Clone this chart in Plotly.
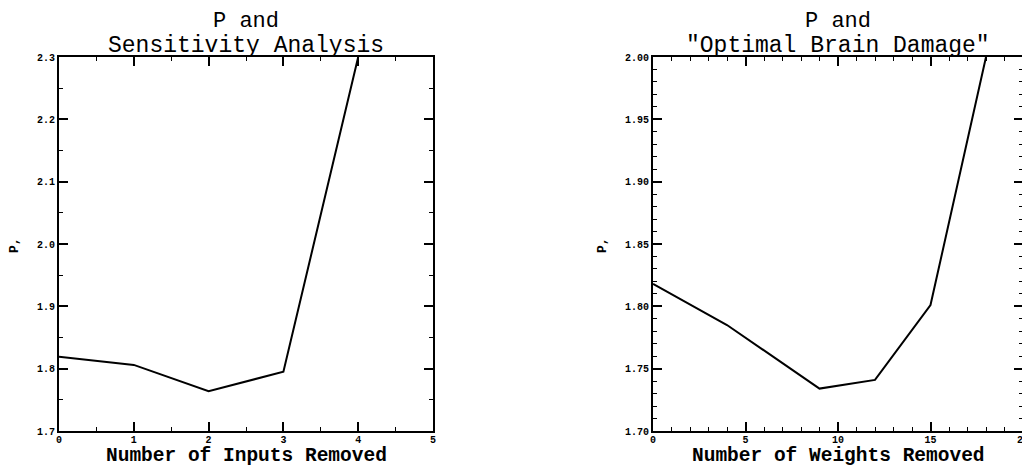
import plotly.graph_objects as go

# Left panel: P vs number of inputs removed (sensitivity analysis)
inputs_removed = [0, 1, 2, 3, 4]
p_inputs = [1.819, 1.806, 1.764, 1.795, 2.30]

# Right panel: P vs number of weights removed (Optimal Brain Damage)
weights_removed = [0, 4, 9, 12, 15, 18]
p_weights = [1.818, 1.785, 1.734, 1.741, 1.801, 2.00]

left_title = ["P and", "Sensitivity Analysis"]
right_title = ["P and", "\"Optimal Brain Damage\""]
left_xlabel = "Number of Inputs Removed"
right_xlabel = "Number of Weights Removed"
ylabel = "P,"

MONO = "Liberation Mono, Courier New, monospace"

# page body has an 8px margin; figure occupies the rest of the 1030x470 window
OFF = 8
W, H = 1030 - OFF, 470 - OFF


def px(X):
    return (X - OFF) / W


def py(Y):
    return 1 - (Y - OFF) / H


fig = go.Figure()
fig.add_trace(go.Scatter(x=inputs_removed, y=p_inputs, mode="lines",
                         line=dict(color="black", width=2), xaxis="x", yaxis="y",
                         showlegend=False))
fig.add_trace(go.Scatter(x=weights_removed, y=p_weights, mode="lines",
                         line=dict(color="black", width=2), xaxis="x2", yaxis="y2",
                         showlegend=False))

lx0, lx1 = px(59), px(433)
rx0, rx1 = px(653), px(1023)
ytop, ybot = py(57), py(431)

tickfont = dict(family=MONO, size=10, color="black", weight="bold")
common = dict(showgrid=False, zeroline=False, showline=True, linecolor="black",
              linewidth=2, mirror="allticks", ticks="inside", ticklen=9,
              tickwidth=1.5, tickcolor="black", tickfont=tickfont, automargin=False)
minor_style = dict(ticks="inside", ticklen=4, tickcolor="black", tickwidth=1.2)

fig.update_layout(
    width=W, height=H, margin=dict(l=0, r=0, t=0, b=0, autoexpand=False),
    paper_bgcolor="white", plot_bgcolor="white",
    xaxis=dict(domain=[lx0, lx1], range=[0, 5], anchor="y", tick0=0, dtick=1,
               minor=dict(dtick=0.5, **minor_style), ticklabelstandoff=-2, **common),
    yaxis=dict(domain=[ybot, ytop], range=[1.7, 2.3], anchor="x", tick0=1.7, dtick=0.1,
               tickformat=".1f", minor=dict(dtick=0.05, **minor_style), **common),
    xaxis2=dict(domain=[rx0, rx1], range=[0, 20], anchor="y2", tick0=0, dtick=5,
                minor=dict(dtick=1, **minor_style), ticklabelstandoff=-2, **common),
    yaxis2=dict(domain=[ybot, ytop], range=[1.70, 2.00], anchor="x2", tick0=1.70, dtick=0.05,
                tickformat=".2f", minor=dict(dtick=0.01, **minor_style), **common),
)

t1font = dict(family=MONO, size=22, color="black")
t2font = dict(family=MONO, size=23, color="black")
xlfont = dict(family=MONO, size=19.5, color="black", weight="bold")
ylfont = dict(family=MONO, size=13, color="black", weight="bold")
panels = (
    ((lx0 + lx1) / 2, left_title, left_xlabel, px(14)),
    ((rx0 + rx1) / 2, right_title, right_xlabel, px(602)),
)
for cx, lines, xlab, ylx in panels:
    fig.add_annotation(x=cx, y=py(21.5), xref="paper", yref="paper", text=lines[0],
                       showarrow=False, font=t1font, xanchor="center", yanchor="middle")
    fig.add_annotation(x=cx, y=py(46), xref="paper", yref="paper", text=lines[1],
                       showarrow=False, font=t2font, xanchor="center", yanchor="middle")
    fig.add_annotation(x=cx, y=py(456), xref="paper", yref="paper", text=xlab,
                       showarrow=False, font=xlfont, xanchor="center", yanchor="middle")
    fig.add_annotation(x=ylx, y=py(245), xref="paper", yref="paper", text=ylabel,
                       showarrow=False, font=ylfont, xanchor="center", yanchor="middle",
                       textangle=-90)

fig.write_html("out.html")
